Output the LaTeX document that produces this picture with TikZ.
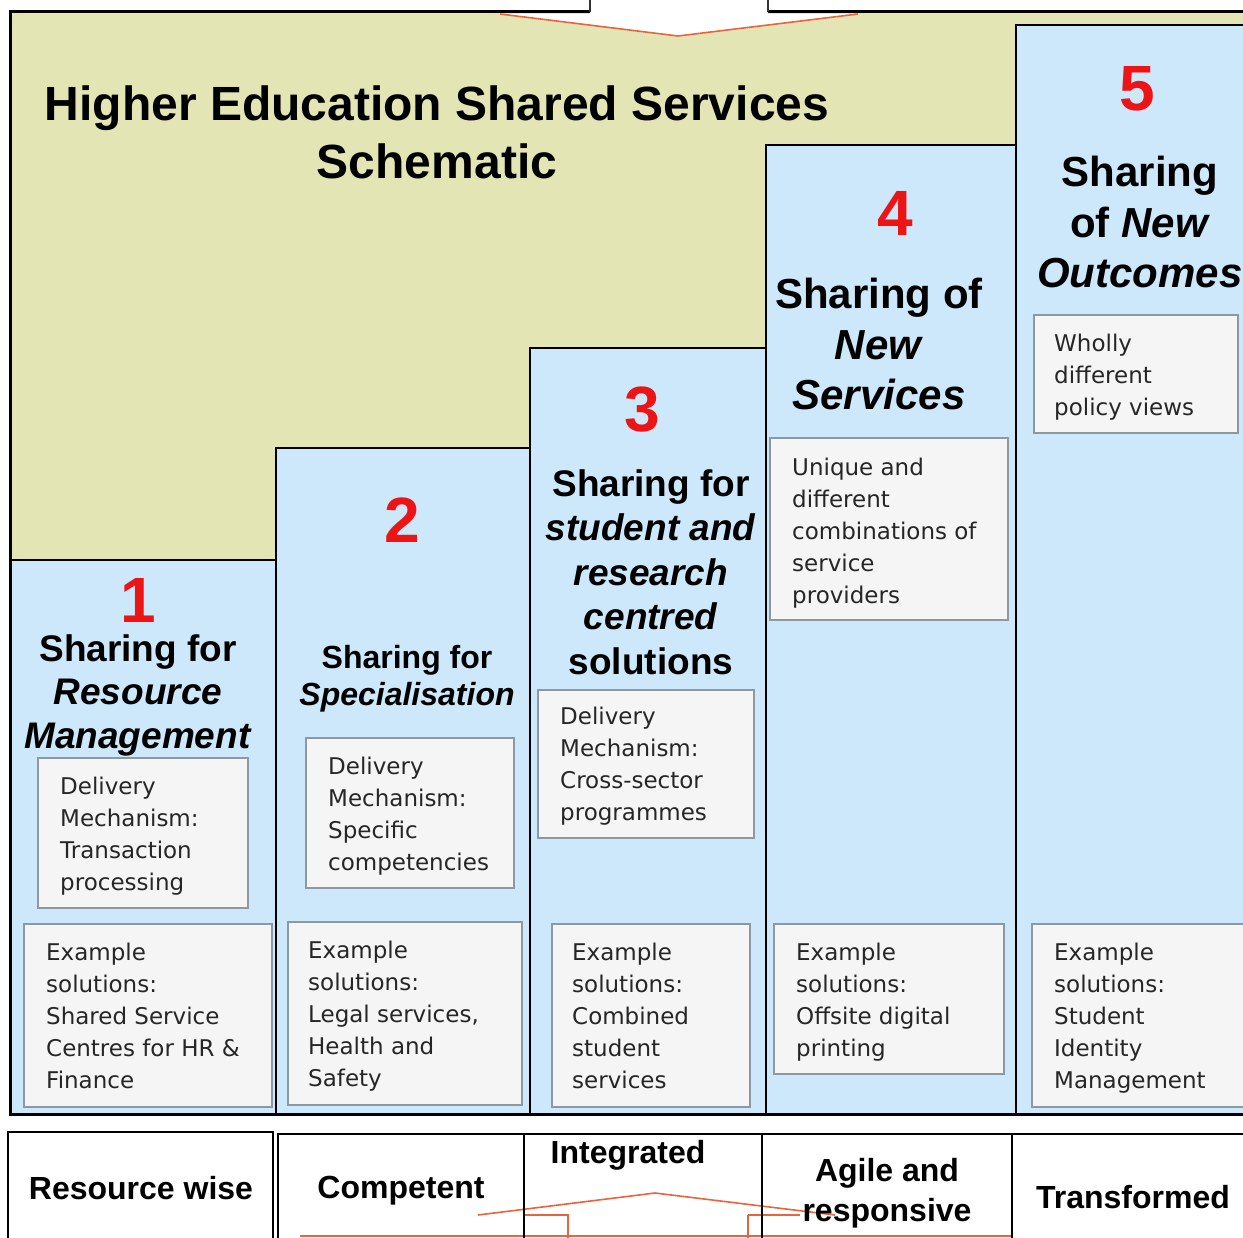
\documentclass[tikz,border=0pt]{standalone}
\usepackage{fontspec}
\setmainfont{Liberation Sans}
\newfontfamily\boxfont{DejaVu Sans}
\definecolor{bgreen}{RGB}{227,229,181}
\definecolor{lblue}{RGB}{204,232,250}
\definecolor{boxfill}{RGB}{245,245,245}
\definecolor{boxline}{RGB}{140,152,162}
\definecolor{arrowor}{RGB}{232,100,60}
\definecolor{numred}{RGB}{236,20,20}
\newcommand\hfs[2]{\fontsize{#1}{#2}\selectfont\bfseries}
\tikzset{
  headtxt/.style={inner sep=0pt, align=center, text=black},
  numtxt/.style={inner sep=0pt, text=numred, font=\hfs{64}{70}},
  infobox/.style={draw=boxline, fill=boxfill, line width=1.5pt},
  boxtxt/.style={anchor=north west, inner sep=0pt, align=left, text=black!85, font=\boxfont\fontsize{23}{32}\selectfont},
  bottxt/.style={inner sep=0pt, align=center, font=\hfs{32}{40}},
  frameline/.style={draw=black, line width=3pt},
  colline/.style={draw=black, line width=1.8pt},
  orangeline/.style={draw=arrowor, line width=1.6pt}
}
\begin{document}
\begin{tikzpicture}[x=1pt,y=-1pt]
\useasboundingbox (0,0) rectangle (1243,1238);
\clip (0,0) rectangle (1243,1238);
\fill[white] (0,0) rectangle (1243,1238);

% green panel
\fill[bgreen] (10,12) rectangle (1260,1114);
% staircase of columns
\fill[lblue] (12,1114) -- (12,560) -- (276,560) -- (276,448) -- (530,448) -- (530,348) -- (766,348) -- (766,145) -- (1016,145) -- (1016,25) -- (1260,25) -- (1260,1114) -- cycle;
\draw[colline] (12,560) -- (276,560) -- (276,448) -- (530,448) -- (530,348) -- (766,348) -- (766,145) -- (1016,145) -- (1016,25) -- (1260,25);
\draw[colline] (276,560) -- (276,1114);
\draw[colline] (530,448) -- (530,1114);
\draw[colline] (766,348) -- (766,1114);
\draw[colline] (1016,145) -- (1016,1114);

% outer frame
\draw[frameline] (591,12) -- (10,12) -- (10,1114) -- (1260,1114);
\draw[frameline] (767,12) -- (1260,12);

% top arrow
\coordinate (ta1) at (590,-5);
\coordinate (ta2) at (590,14);
\coordinate (ta3) at (500,14);
\coordinate (ttip) at (678,36);
\coordinate (ta5) at (858,14);
\coordinate (ta6) at (768,14);
\coordinate (ta7) at (768,-5);
\fill[white] (ta1) -- (ta2) -- (ta3) -- (ttip) -- (ta5) -- (ta6) -- (ta7) -- cycle;
\draw[orangeline] (ta3) -- (ttip) -- (ta5);
\draw[line width=1.5pt, draw=black!80] (ta1) -- (590,12);
\draw[line width=1.5pt, draw=black!80] (ta7) -- (768,12);

% title
\node[headtxt, font=\hfs{48}{58}] (title) at (437,132) {Higher Education Shared Services\\Schematic};

% numbers
\node[numtxt] (n1) at (138,600) {1};
\node[numtxt] (n2) at (402,520) {2};
\node[numtxt] (n3) at (642,410) {3};
\node[numtxt] (n4) at (895,213) {4};
\node[numtxt] (n5) at (1137,89) {5};

% headings
\node[headtxt, font=\hfs{37}{43.5}] (h1) at (138,695) {Sharing for\\\textit{Resource}\\\textit{Management}};
\node[headtxt, font=\hfs{32}{37}] (h2) at (407,679) {Sharing for\\\textit{Specialisation}};
\node[headtxt, font=\hfs{37}{44.5}] (h3) at (651,572) {Sharing for\\\textit{student and}\\\textit{research}\\\textit{centred}\\solutions};
\node[headtxt, font=\hfs{42}{50.5}] (h4) at (879,344) {Sharing of\\\textit{New}\\\textit{Services}};
\node[headtxt, font=\hfs{42}{50.5}] (h5) at (1140,222) {Sharing\\of \textit{New}\\\textit{Outcomes}};

% info boxes
\draw[infobox] (38,758) rectangle (248,908);
\node[boxtxt] (d1) at (60,777) {Delivery\\Mechanism:\\Transaction\\processing};
\draw[infobox] (24,924) rectangle (272,1107);
\node[boxtxt] (e1) at (46,943) {Example\\solutions:\\Shared Service\\Centres for HR \&\\Finance};

\draw[infobox] (306,738) rectangle (514,888);
\node[boxtxt] (d2) at (328,757) {Delivery\\Mechanism:\\Specific\\competencies};
\draw[infobox] (288,922) rectangle (522,1105);
\node[boxtxt] (e2) at (308,941) {Example\\solutions:\\Legal services,\\Health and\\Safety};

\draw[infobox] (538,690) rectangle (754,838);
\node[boxtxt] (d3) at (560,707) {Delivery\\Mechanism:\\Cross-sector\\programmes};
\draw[infobox] (552,924) rectangle (750,1107);
\node[boxtxt] (e3) at (572,943) {Example\\solutions:\\Combined\\student\\services};

\draw[infobox] (770,438) rectangle (1008,620);
\node[boxtxt] (d4) at (792,458) {Unique and\\different\\combinations of\\service\\providers};
\draw[infobox] (774,924) rectangle (1004,1074);
\node[boxtxt] (e4) at (796,943) {Example\\solutions:\\Offsite digital\\printing};

\draw[infobox] (1034,315) rectangle (1238,433);
\node[boxtxt] (d5) at (1054,334) {Wholly\\different\\policy views};
\draw[infobox] (1032,924) rectangle (1260,1107);
\node[boxtxt] (e5) at (1054,943) {Example\\solutions:\\Student\\Identity\\Management};

% bottom arrow (behind bottom row)
\coordinate (ba1) at (568,1250);
\coordinate (ba2) at (568,1215);
\coordinate (ba3) at (478,1215);
\coordinate (btip) at (655,1193);
\coordinate (ba5) at (835,1215);
\coordinate (ba6) at (748,1215);
\coordinate (ba7) at (748,1250);
\filldraw[fill=white, orangeline] (ba1) -- (ba2) -- (525,1215) (ba3) -- (btip) -- (ba5) (ba6) -- (ba7);
\draw[orangeline] (ba2) -- (525,1215);
\draw[orangeline] (ba6) -- (800,1215);
\draw[orangeline, line width=2.5pt] (300,1236) -- (1012,1236);

% bottom row boxes
\draw[line width=1.5pt] (8,1250) -- (8,1132) -- (273,1132) -- (273,1250);
\draw[line width=1.5pt] (1260,1134) -- (278,1134) -- (278,1250);
\draw[line width=1.2pt] (524,1134) -- (524,1250);
\draw[line width=2pt] (762,1134) -- (762,1250);
\draw[line width=2.5pt] (1012,1134) -- (1012,1250);

\node[bottxt] (b1) at (141,1188) {Resource wise};
\node[bottxt] (b2) at (401,1191) {Competent};
\node[bottxt] (b3) at (628,1155) {Integrated};
\node[bottxt] (b4) at (887,1193) {Agile and\\responsive};
\node[bottxt] (b5) at (1133,1197) {Transformed};
\end{tikzpicture}
\end{document}
